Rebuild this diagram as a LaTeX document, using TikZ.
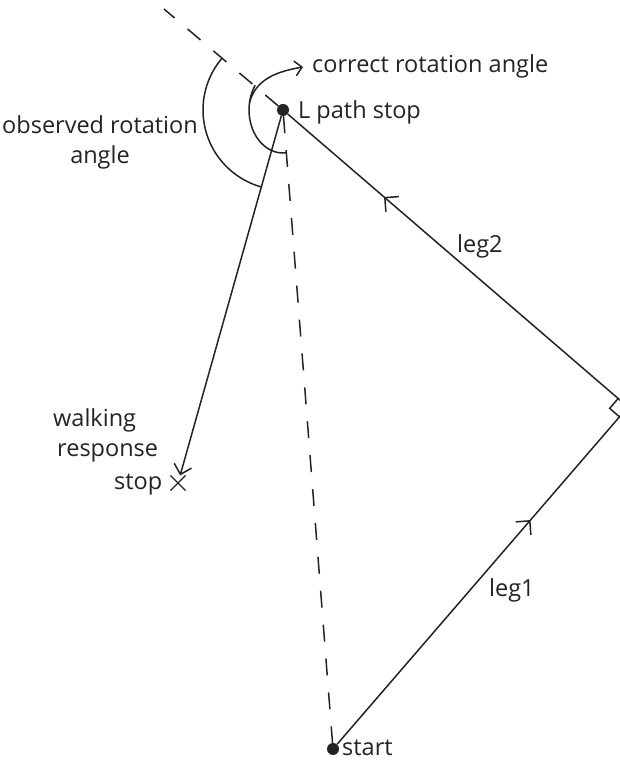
\documentclass[tikz,border=0pt]{standalone}
\usepackage{fontspec}
\setmainfont{Open Sans}
\usepackage{xcolor}
\usetikzlibrary{arrows.meta, calc, decorations.markings, shapes.misc}
\definecolor{inkgray}{RGB}{35,35,35}

\begin{document}
\begin{tikzpicture}[
  x=1pt, y=1pt,
  every node/.style={font=\fontsize{23.5}{30}\selectfont, text=inkgray, inner sep=0pt},
  dot/.style={circle, fill=inkgray, minimum size=12pt, inner sep=0pt},
  lbl/.style={anchor=base west},
  leg/.style={line width=1.5pt, draw=inkgray},
  dashline/.style={line width=1.5pt, draw=inkgray, dash pattern=on 17pt off 17pt},
  midarrow/.style={postaction={decorate}, decoration={markings,
      mark=at position #1 with {\arrow{Straight Barb[length=10pt, width=20pt]}}}},
  arrow/.style={-{Straight Barb[length=9pt, width=18pt]}, line width=1.5pt, draw=inkgray},
  leader/.style={-{Straight Barb[length=7pt, width=15pt]}, line width=1.5pt, draw=inkgray}
]
  \useasboundingbox (0,0) rectangle (620,767);
  \clip (0,0) rectangle (620,767);

  % Punkte der Wege
  \node[dot] (L) at (283,657) {};
  \node[dot] (S) at (333,18) {};
  \coordinate (V) at (628,360);
  \coordinate (D) at (164,758);
  \node[draw=inkgray, cross out, minimum size=14pt, line width=1.2pt] (X) at (178,284) {};

  % Beschriftungen
  \node[lbl] (correct) at (312,694) {correct rotation angle};
  \node[lbl] (stoplbl) at (298,648) {L path stop};
  \node[align=center] (observed) at (100,625) {observed rotation\\angle};
  \node[lbl] (walking) at (53,340) {walking};
  \node[lbl] (response) at (57,310) {response};
  \node[lbl] (wstop) at (114,277) {stop};
  \node[lbl] (leg2) at (457,514) {leg2};
  \node[lbl] (leg1) at (489,170) {leg1};
  \node[lbl] (startlbl) at (342,12) {start};

  % Wege
  \draw[dashline] (L) -- (D);
  \draw[dashline] (L) -- (S);
  \draw[leg, midarrow=0.665] (S) -- (V);
  \draw[leg, midarrow=0.717] (V) -- (L);
  \coordinate (ra1) at ($(V)!13pt!(L)$);
  \coordinate (ra2) at ($(V)!13pt!(S)$);
  \draw[leg] (ra1) -- ($(ra1)+(ra2)-(V)$) -- (ra2);
  \draw[arrow] (L) -- (X);

  % Winkel
  \draw[leg] (L) ++(139.3:80) arc[start angle=139.3, end angle=254.4, radius=80];
  \draw[leg] (L) ++(145:34 and 43) arc[start angle=145, end angle=276, x radius=34, y radius=43];
  \coordinate (cbranch) at ($(L)+(170:34 and 43)$);
  \coordinate (ctip) at (303,700);
  \draw[leader] (cbranch) to[out=75, in=190] (ctip);
\end{tikzpicture}
\end{document}
